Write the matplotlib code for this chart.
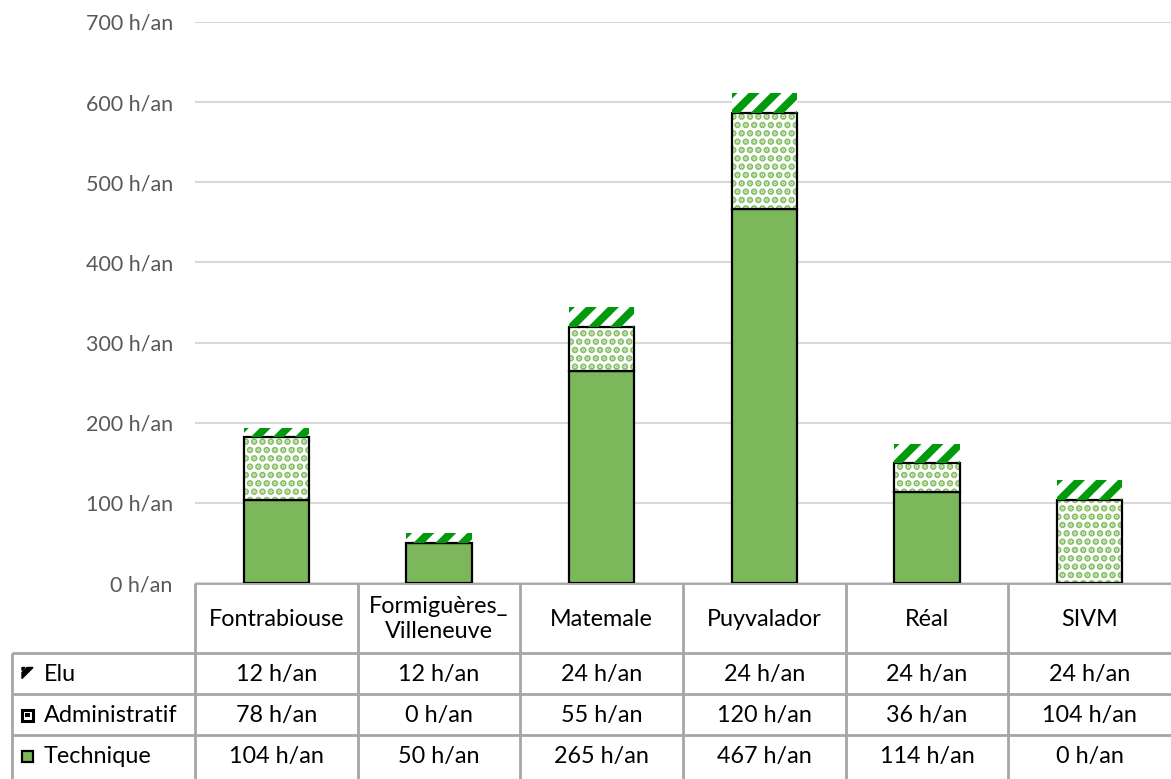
import matplotlib.pyplot as plt
from matplotlib.lines import Line2D
from matplotlib.patches import Rectangle
from matplotlib.transforms import IdentityTransform

plt.rcParams['font.family'] = ['Lato', 'DejaVu Sans']

categories = ["Fontrabiouse", "Formiguères_\nVilleneuve", "Matemale", "Puyvalador", "Réal", "SIVM"]
technique = [104, 50, 265, 467, 114, 0]
administratif = [78, 0, 55, 120, 36, 104]
elu = [12, 12, 24, 24, 24, 24]
series_names = ["Elu", "Administratif", "Technique"]
yticks = [0, 100, 200, 300, 400, 500, 600, 700]

W, H = 1171, 779
GREEN = "#7DB75B"
DOT = "#86BF63"
STRIPE = "#009A0C"
GRID = "#D9D9D9"
TLINE = "#A6A6A6"

fig = plt.figure(figsize=(W / 100, H / 100), dpi=100)

# plot area in pixels
px_l, px_r, px_t, px_b = 195, 1171, 22, 583
ax = fig.add_axes([px_l / W, 1 - px_b / H, (px_r - px_l) / W, (px_b - px_t) / H])
n = len(categories)
x = [i + 0.5 for i in range(n)]
bw = 0.4

ax.bar(x, technique, bw, color=GREEN, edgecolor="black", linewidth=1.6, zorder=3)
b2 = ax.bar(x, administratif, bw, bottom=technique, color="white", edgecolor=DOT,
            linewidth=0, hatch="..", zorder=3)
for b in b2:
    if hasattr(b, "set_hatch_linewidth"):
        b.set_hatch_linewidth(3.4)
ax.bar(x, administratif, bw, bottom=technique, fill=False, edgecolor="black",
       linewidth=1.6, zorder=4)
bottom3 = [t + a for t, a in zip(technique, administratif)]
b3 = ax.bar(x, elu, bw, bottom=bottom3, color="white", linewidth=0, zorder=3)

ax.set_xlim(0, n)
ax.set_ylim(0, 700)
ax.set_yticks(yticks)
ax.set_yticklabels([f"{v} h/an" for v in yticks], color="#595959", fontsize=15.5)
ax.tick_params(axis="y", length=0, pad=16)
ax.set_xticks([])
ax.grid(axis="y", color=GRID, linewidth=1.5, zorder=0)
for s in ax.spines.values():
    s.set_visible(False)

# diagonal stripes on the "Elu" segments (45 deg in pixel space)
period = 22
for b in b3:
    (x0, y0), (x1, y1) = ax.transData.transform([(b.get_x(), b.get_y()),
                                                  (b.get_x() + b.get_width(), b.get_y() + b.get_height())])
    h = y1 - y0
    off = x0 - h - period
    while off < x1 + period:
        ln = Line2D([off - 20, off + h + 20], [y0 - 20, y0 + h + 20], transform=IdentityTransform(),
                    color=STRIPE, linewidth=5.6, solid_capstyle="butt", zorder=5)
        ax.add_artist(ln)
        ln.set_clip_path(b)
        off += period

# data table drawn below the plot
tab = fig.add_axes([0, 0, 1, 1], zorder=-1)
tab.set_xlim(0, W)
tab.set_ylim(H, 0)
tab.axis("off")
col_w = (px_r - px_l) / n
label_l = 12
rows_y = [583, 653, 694, 735, 776]
lkw = dict(color=TLINE, linewidth=2, solid_capstyle="butt")
tab.plot([px_l, px_r], [rows_y[0], rows_y[0]], **lkw)
for yy in rows_y[1:4]:
    tab.plot([label_l, px_r], [yy, yy], **lkw)
tab.plot([label_l, label_l], [rows_y[1], H], **lkw)
for i in range(n):
    xx = px_l + i * col_w
    tab.plot([xx, xx], [rows_y[0], H], **lkw)

for i, c in enumerate(categories):
    cx = px_l + (i + 0.5) * col_w
    tab.text(cx, (rows_y[0] + rows_y[1]) / 2 + 1, c, ha="center", va="center",
             fontsize=16.8, linespacing=1.2, color="black")

table_rows = [elu, administratif, technique]
for r, (name, vals) in enumerate(zip(series_names, table_rows)):
    cy = (rows_y[r + 1] + rows_y[r + 2]) / 2 + 1
    tab.text(44, cy, name, ha="left", va="center", fontsize=16.8, color="black")
    for i, v in enumerate(vals):
        cx = px_l + (i + 0.5) * col_w
        tab.text(cx, cy, f"{v} h/an", ha="center", va="center", fontsize=16.8, color="black")

# legend keys
ky = [(rows_y[k] + rows_y[k + 1]) / 2 for k in range(1, 4)]
tab.fill([22, 33, 27, 22], [ky[0] + 5, ky[0] - 6, ky[0] - 6, ky[0] - 1], color="black")
tab.fill([22, 25, 22], [ky[0] - 6, ky[0] - 6, ky[0] - 3], color="black")
tab.add_patch(Rectangle((22, ky[1] - 5), 11, 11, facecolor="white", edgecolor="black", linewidth=2.2))
tab.add_patch(Rectangle((25, ky[1] - 2), 5, 4, facecolor="black"))
tab.add_patch(Rectangle((22, ky[2] - 5), 11, 11, facecolor=GREEN, edgecolor="black", linewidth=1.6))

fig.savefig("out.png", dpi=100)
